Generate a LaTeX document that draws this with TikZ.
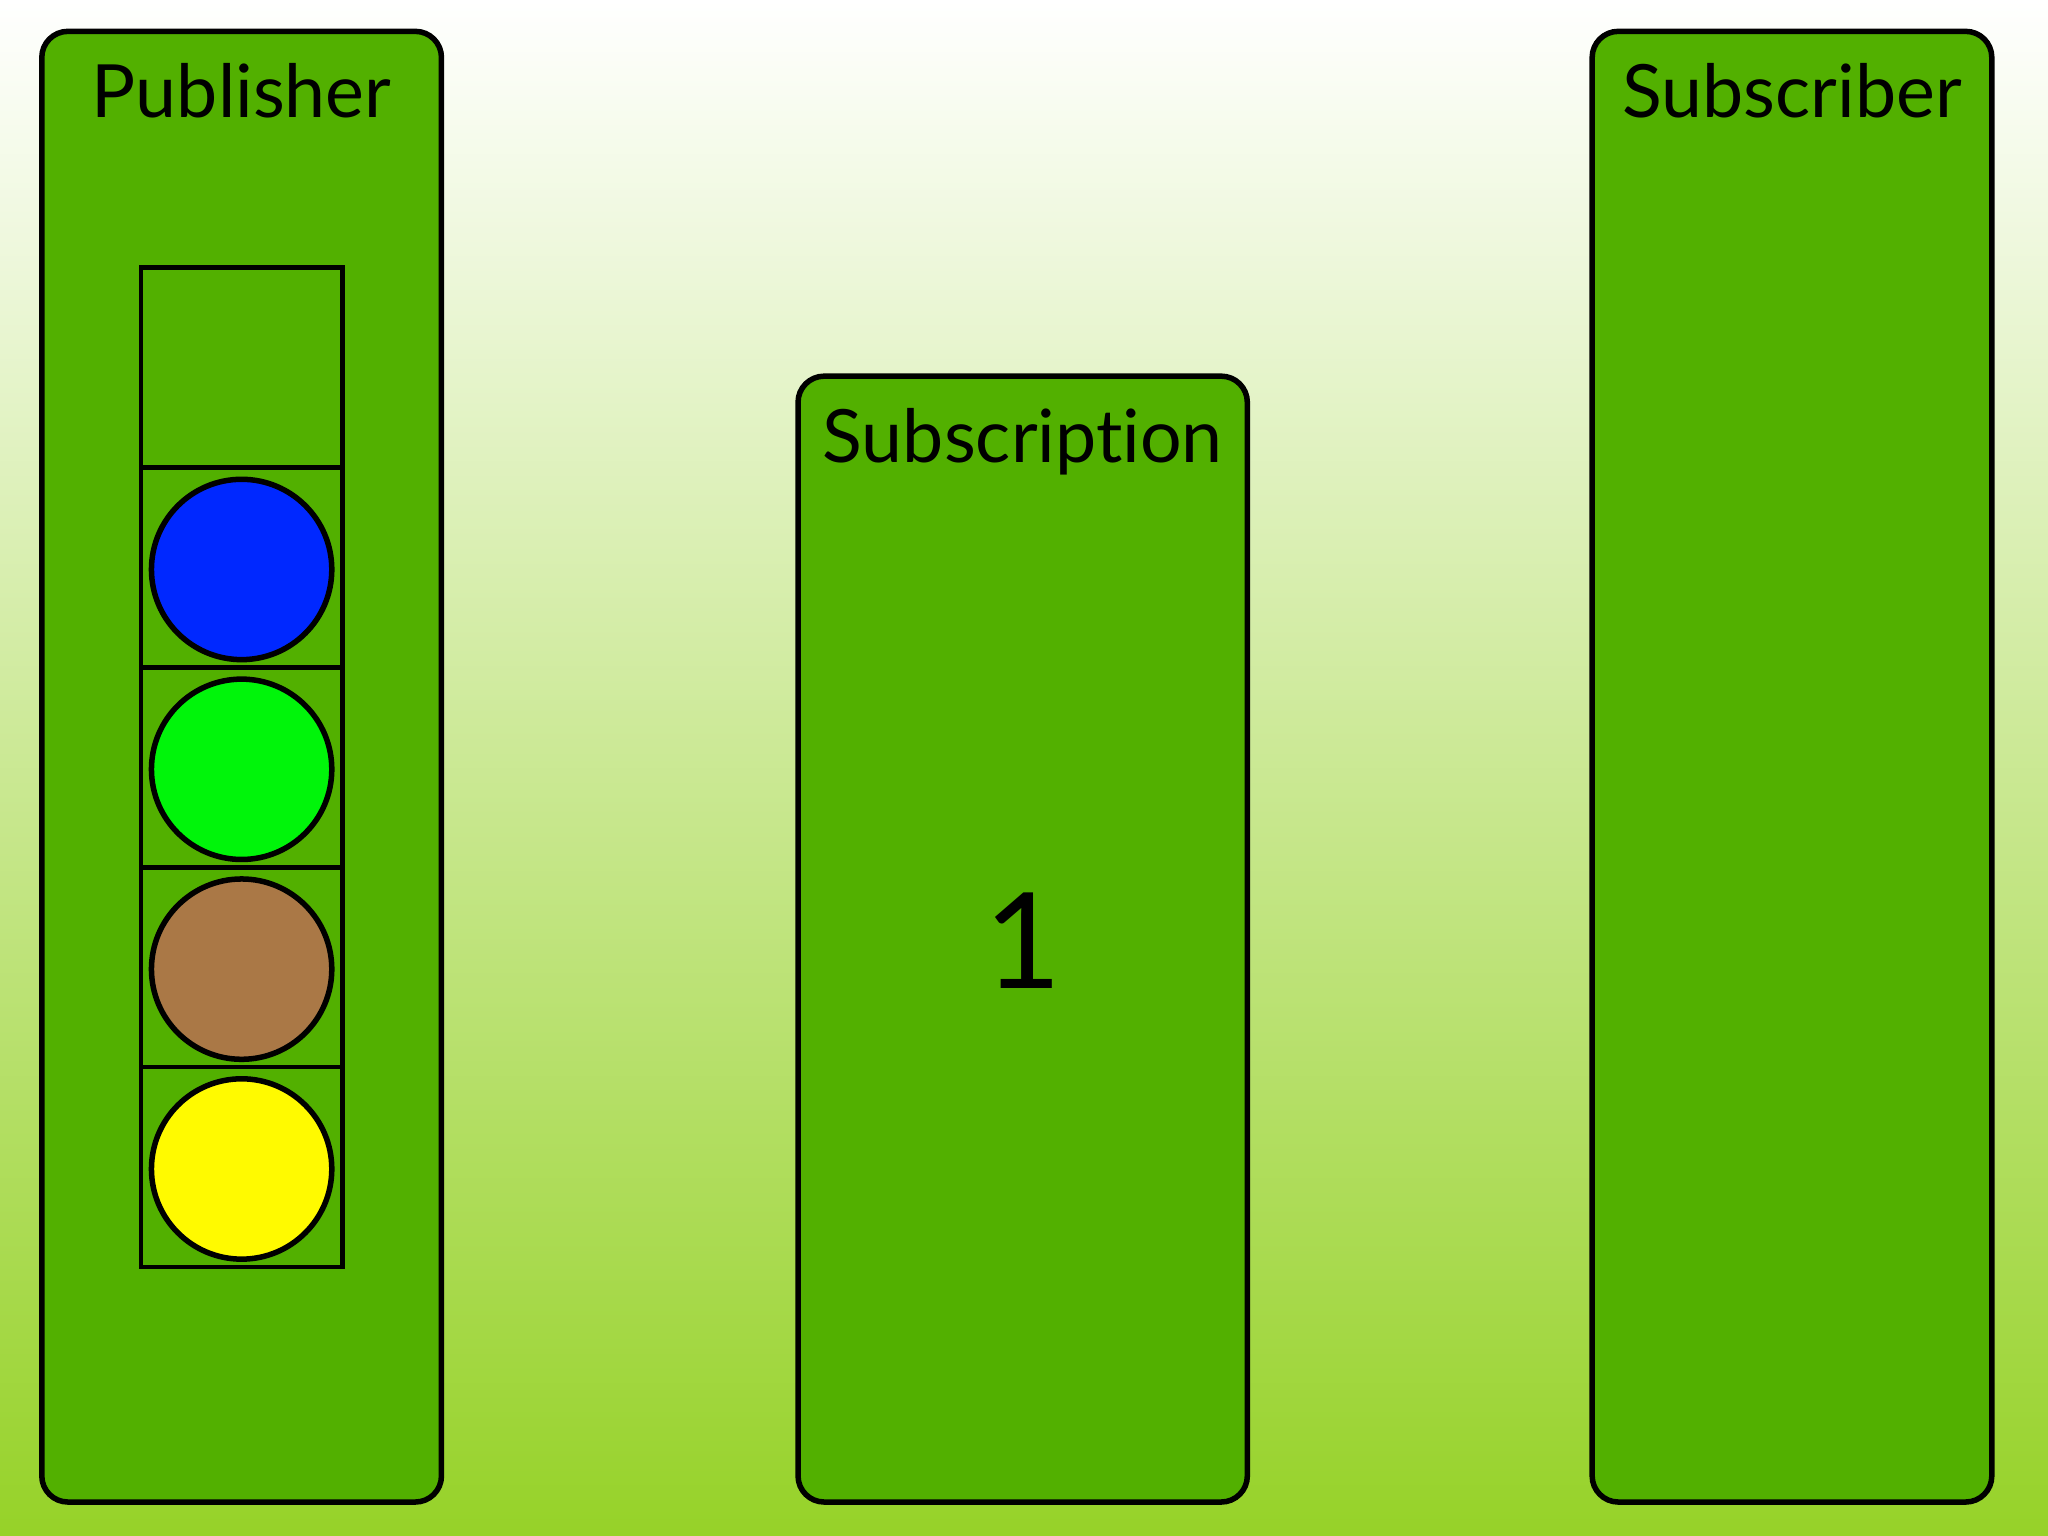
\documentclass[tikz,border=0pt]{standalone}
\usepackage{fontspec}
\setmainfont{Lato}[Ligatures={NoCommon}]
\definecolor{boxg}{RGB}{82,176,0}
\definecolor{bgb}{RGB}{150,210,40}
\definecolor{cblue}{RGB}{0,40,255}
\definecolor{cgreen}{RGB}{0,245,10}
\definecolor{cbrown}{RGB}{170,120,70}
\definecolor{cyellow}{RGB}{255,250,0}
\begin{document}
\begin{tikzpicture}[x=0.01cm,y=-0.01cm,
  panel/.style={draw=black,line width=1.2pt,fill=boxg,rounded corners=0.2cm},
  cell/.style={draw=black,line width=1pt},
  ball/.style={circle,draw=black,line width=1.2pt,minimum size=1.38cm,inner sep=0pt},
  title/.style={font=\fontsize{16}{19}\selectfont,anchor=base}]
\useasboundingbox (0,0) rectangle (1568,1176);
\shade[top color=white,bottom color=bgb] (0,0) rectangle (1568,1176);
\draw[panel] (32,24) rectangle (338,1150);
\draw[panel] (611,288) rectangle (955,1150);
\draw[panel] (1219,24) rectangle (1525,1150);
\node[title] (pub) at (185,90) {Publisher};
\node[title] (sub) at (783,354) {Subscription};
\node[title] (sbr) at (1372,90) {Subscriber};
\node[font=\fontsize{29}{34}\selectfont,anchor=base] (one) at (783,757) {1};
\foreach \y in {205,358,511,664,817} \draw[cell] (108,\y) rectangle (262,\y+153);
\node[ball,fill=cblue] (b1) at (185,436) {};
\node[ball,fill=cgreen] (b2) at (185,589) {};
\node[ball,fill=cbrown] (b3) at (185,742) {};
\node[ball,fill=cyellow] (b4) at (185,895) {};
\end{tikzpicture}
\end{document}
